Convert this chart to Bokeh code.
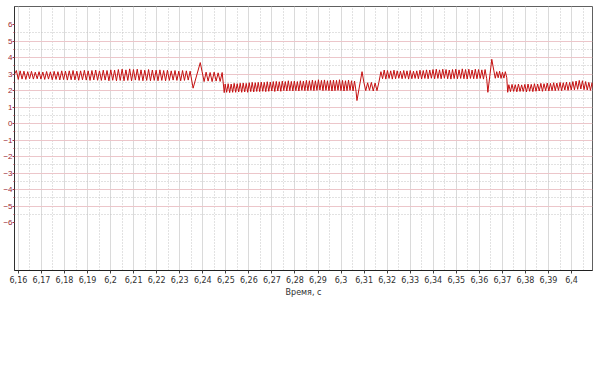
import numpy as np
from bokeh.plotting import figure
from bokeh.models import FixedTicker, Range1d
from bokeh.embed import file_html
from bokeh.resources import INLINE

# ---- data (time in s, value) ----
# oscillating segments: (t_start, t_end) and alternating peak/trough values
SEG_A_T = (6.1583, 6.2345)
SEG_A_V = [3.0, 3.22, 2.68, 3.2, 2.7, 3.18, 2.68, 3.15, 2.72, 3.17, 2.7, 3.12, 2.72, 3.15, 2.7,
           3.13, 2.68, 3.16, 2.7, 3.14, 2.66, 3.17, 2.68, 3.15, 2.65, 3.2, 2.67, 3.18, 2.64, 3.2,
           2.66, 3.22, 2.65, 3.18, 2.63, 3.2, 2.66, 3.23, 2.64, 3.2, 2.62, 3.22, 2.65, 3.25, 2.63,
           3.2, 2.62, 3.24, 2.64, 3.22, 2.6, 3.26, 2.63, 3.24, 2.6, 3.28, 2.62, 3.3, 2.6, 3.26,
           2.62, 3.32, 2.6, 3.28, 2.64, 3.3, 2.62, 3.26, 2.6, 3.24, 2.62, 3.28, 2.6, 3.25, 2.62,
           3.24, 2.6, 3.26, 2.62, 3.22, 2.6, 3.24, 2.62, 3.2, 2.64, 3.22, 2.62, 3.18, 2.6, 3.22,
           2.62, 3.2, 2.64, 3.18]
SEG_B_T = (6.2397, 6.2484)
SEG_B_V = [3.15, 2.55, 3.12, 2.58, 3.1, 2.55, 3.12, 2.58, 3.08, 2.56, 3.1]
SEG_C_T = (6.2497, 6.3065)
SEG_C_V = [2.4, 1.9, 2.42, 1.88, 2.4, 1.9, 2.44, 1.9, 2.42, 1.92, 2.45, 1.9, 2.46, 1.92, 2.44,
           1.9, 2.48, 1.94, 2.5, 1.92, 2.48, 1.95, 2.5, 1.94, 2.52, 1.96, 2.5, 1.94, 2.54, 1.96,
           2.52, 1.98, 2.55, 1.95, 2.56, 1.98, 2.54, 1.96, 2.58, 2.0, 2.55, 1.98, 2.6, 2.0, 2.56,
           1.98, 2.58, 2.0, 2.55, 1.98, 2.6, 2.02, 2.58, 2.0, 2.62, 2.0, 2.6, 2.02, 2.64, 2.0,
           2.6, 2.02, 2.66, 2.04, 2.62, 2.0, 2.65, 2.02, 2.6, 2.0, 2.62, 1.98, 2.64, 2.0, 2.62,
           2.02, 2.66, 2.0, 2.62, 1.98, 2.6, 2.0, 2.64, 2.02, 2.6, 1.98, 2.58, 1.96]
SEG_D_T = (6.3099, 6.3164)
SEG_D_V = [2.5, 2.0, 2.48, 2.02, 2.5, 1.98, 2.46, 2.0, 2.5]
SEG_E_T = (6.3173, 6.3632)
SEG_E_V = [3.15, 2.72, 3.25, 2.7, 3.22, 2.74, 3.2, 2.7, 3.24, 2.72, 3.2, 2.75, 3.18, 2.72, 3.22,
           2.74, 3.2, 2.7, 3.22, 2.72, 3.18, 2.74, 3.2, 2.72, 3.24, 2.7, 3.22, 2.74, 3.26, 2.72,
           3.25, 2.75, 3.28, 2.72, 3.3, 2.74, 3.26, 2.72, 3.3, 2.75, 3.28, 2.72, 3.25, 2.7, 3.28,
           2.73, 3.3, 2.72, 3.26, 2.74, 3.32, 2.72, 3.28, 2.7, 3.3, 2.74, 3.25, 2.72, 3.3, 2.72,
           3.28, 2.74, 3.26, 2.7, 3.28, 2.72]
SEG_F_T = (6.3663, 6.3719)
SEG_F_V = [3.2, 2.75, 3.15, 2.78, 3.18, 2.74, 3.12, 2.76, 3.15, 2.78]
SEG_G_T = (6.3728, 6.4096)
SEG_G_V = [2.36, 1.94, 2.38, 1.95, 2.36, 1.93, 2.4, 1.95, 2.35, 1.95, 2.38, 1.92, 2.4, 1.96,
           2.38, 1.94, 2.42, 1.96, 2.4, 1.98, 2.44, 1.96, 2.42, 2.0, 2.46, 1.98, 2.44, 2.0, 2.48,
           2.0, 2.46, 2.02, 2.5, 2.0, 2.48, 2.04, 2.52, 2.02, 2.5, 2.04, 2.55, 2.05, 2.58, 2.08,
           2.62, 2.1, 2.6, 2.06, 2.55, 2.04, 2.5, 2.02, 2.48, 2.0]

# transient points (switching spikes)
SPIKE_T = [6.2358, 6.2389, 6.2493, 6.3069, 6.3091, 6.3637, 6.3654, 6.3723]
SPIKE_V = [2.15, 3.7, 1.88, 1.4, 3.15, 1.9, 3.9, 1.9]

X_TICKS = [6.16, 6.17, 6.18, 6.19, 6.2, 6.21, 6.22, 6.23, 6.24, 6.25, 6.26, 6.27, 6.28,
           6.29, 6.3, 6.31, 6.32, 6.33, 6.34, 6.35, 6.36, 6.37, 6.38, 6.39, 6.4]
X_LABELS = ["6,16", "6,17", "6,18", "6,19", "6,2", "6,21", "6,22", "6,23", "6,24", "6,25",
            "6,26", "6,27", "6,28", "6,29", "6,3", "6,31", "6,32", "6,33", "6,34", "6,35",
            "6,36", "6,37", "6,38", "6,39", "6,4"]
Y_TICKS = [-6, -5, -4, -3, -2, -1, 0, 1, 2, 3, 4, 5, 6]
Y_MINOR = [-5.5, -4.5, -3.5, -2.5, -1.5, -0.5, 0.5, 1.5, 2.5, 3.5, 4.5, 5.5]
Y_GRID = [-5, -4, -3, -2, -1, 0, 1, 2, 3, 4, 5]
X_TITLE = "Время, с"

# ---- assemble series ----
ts, vs = [], []
for (t0, t1), vals in [(SEG_A_T, SEG_A_V), (SEG_B_T, SEG_B_V), (SEG_C_T, SEG_C_V),
                       (SEG_D_T, SEG_D_V), (SEG_E_T, SEG_E_V), (SEG_F_T, SEG_F_V),
                       (SEG_G_T, SEG_G_V)]:
    ts.extend(np.linspace(t0, t1, len(vals)).tolist())
    vs.extend(vals)
ts.extend(SPIKE_T)
vs.extend(SPIKE_V)
order = np.argsort(ts)
t = np.array(ts)[order]
v = np.array(vs)[order]

FONT = "DejaVu Sans"

p = figure(width=600, height=372, output_backend="svg", toolbar_location=None,
           x_range=Range1d(6.1583, 6.4091), y_range=Range1d(-8.9, 7.1),
           min_border_left=10, min_border_right=8, min_border_top=6, min_border_bottom=102)
p.background_fill_color = "white"
p.border_fill_color = "white"
p.outline_line_color = "#606060"
p.outline_line_width = 1

# grids
x_minor = [round(a + 0.005, 3) for a in X_TICKS[:-1]] + [6.405]
p.xgrid.ticker = FixedTicker(ticks=X_TICKS, minor_ticks=x_minor)
p.xgrid.grid_line_color = "#dadada"
p.xgrid.minor_grid_line_color = "#c4c4c4"
p.xgrid.minor_grid_line_dash = "1 2"
p.ygrid.ticker = FixedTicker(ticks=Y_GRID, minor_ticks=Y_MINOR)
p.ygrid.grid_line_color = "#ecc6ca"
p.ygrid.minor_grid_line_color = "#c4c4c4"
p.ygrid.minor_grid_line_dash = "1 2"

# x axis
xa = p.xaxis[0]
xa.ticker = FixedTicker(ticks=X_TICKS)
xa.major_label_overrides = dict(zip(X_TICKS, X_LABELS))
xa.axis_line_color = "#202020"
xa.major_tick_line_color = "#404040"
xa.major_tick_out = 3
xa.major_tick_in = 0
xa.minor_tick_line_color = None
xa.major_label_text_font = FONT
xa.major_label_text_font_size = "8px"
xa.major_label_text_color = "#303030"
xa.major_label_standoff = 2
xa.axis_label = X_TITLE
xa.axis_label_text_font = FONT
xa.axis_label_text_font_size = "8px"
xa.axis_label_text_font_style = "normal"
xa.axis_label_text_color = "#303030"
xa.axis_label_standoff = 2

# y axis
ya = p.yaxis[0]
ya.ticker = FixedTicker(ticks=Y_TICKS, minor_ticks=Y_MINOR)
ya.axis_label = None
ya.axis_line_color = "#303030"
ya.major_tick_line_color = "#b03040"
ya.major_tick_out = 2
ya.major_tick_in = 0
ya.minor_tick_line_color = "#b03040"
ya.minor_tick_out = 1
ya.minor_tick_in = 0
ya.major_label_text_font = "Liberation Sans"
ya.major_label_text_font_size = "8px"
ya.major_label_text_color = "#9a1f30"
ya.major_label_standoff = 0

p.line(t, v, line_color="#c41010", line_width=1)

open("out.html", "w").write(file_html(p, INLINE))
